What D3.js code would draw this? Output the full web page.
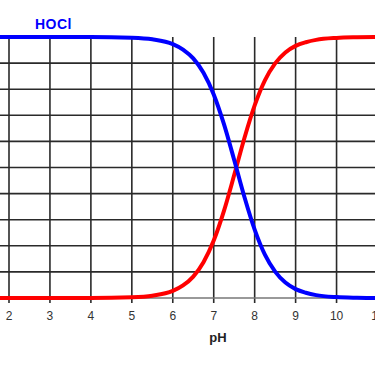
<!DOCTYPE html>
<html><head><meta charset="utf-8">
<script src="https://cdn.jsdelivr.net/npm/d3@7"></script>
<style>html,body{margin:0;padding:0;background:#fff;overflow:hidden}</style>
</head><body>
<svg id="c" width="375" height="367"></svg>
<script>
const pH =      [1.5, 2, 3, 4, 5, 5.5, 6, 6.25, 6.5, 6.75, 7, 7.25, 7.5, 7.75, 8, 8.25, 8.5, 8.75, 9, 9.25, 9.5, 10, 10.5, 11, 11.5];
const hocl =    [100, 100, 100, 100, 99.7, 99.1, 97.3, 95.2, 91.8, 86.3, 78.0, 66.6, 52.9, 38.7, 26.2, 16.6, 10.1, 5.9, 3.4, 2.0, 1.1, 0.35, 0.1, 0, 0];
const ocl =     [0, 0, 0, 0, 0.3, 0.9, 2.7, 4.8, 8.2, 13.7, 22.0, 33.4, 47.1, 61.3, 73.8, 83.4, 89.9, 94.1, 96.6, 98.0, 98.9, 99.65, 99.9, 100, 100];
const xTicks = [2, 3, 4, 5, 6, 7, 8, 9, 10, 11];
const yGrid = [10, 20, 30, 40, 50, 60, 70, 80, 90];

const svg = d3.select("#c");
const x = d3.scaleLinear().domain([2, 11]).range([9, 377.5]);
const y = d3.scaleLinear().domain([0, 100]).range([298, 37]);

// horizontal grid
svg.append("g").selectAll("line").data(yGrid).join("line")
  .attr("x1", 0).attr("x2", 375)
  .attr("y1", d => y(d)).attr("y2", d => y(d))
  .attr("stroke", "#2a2a2a").attr("stroke-width", 1.6);

// vertical grid (with tick extension)
svg.append("g").selectAll("line").data(xTicks).join("line")
  .attr("x1", d => x(d)).attr("x2", d => x(d))
  .attr("y1", y(100)).attr("y2", y(0) + 5)
  .attr("stroke", "#2a2a2a").attr("stroke-width", 1.6);

// bottom axis line
svg.append("line").attr("x1", 0).attr("x2", 375)
  .attr("y1", y(0)).attr("y2", y(0))
  .attr("stroke", "#777").attr("stroke-width", 1.6);

// tick labels
svg.append("g").selectAll("text").data(xTicks).join("text")
  .attr("x", d => x(d)).attr("y", 320)
  .attr("text-anchor", "middle")
  .attr("font-family", "Liberation Sans, Arial, sans-serif")
  .attr("font-size", 12).attr("fill", "#333")
  .text(d => d);

svg.append("text").attr("x", 218).attr("y", 342)
  .attr("text-anchor", "middle")
  .attr("font-family", "Liberation Sans, Arial, sans-serif")
  .attr("font-size", 13).attr("font-weight", "bold").attr("fill", "#222")
  .text("pH");

const line = d3.line().curve(d3.curveMonotoneX);
svg.append("path")
  .attr("d", line(pH.map((p, i) => [x(p), y(ocl[i])])))
  .attr("fill", "none").attr("stroke", "#ff0000").attr("stroke-width", 4);
svg.append("path")
  .attr("d", line(pH.map((p, i) => [x(p), y(hocl[i])])))
  .attr("fill", "none").attr("stroke", "#0000ff").attr("stroke-width", 4);

svg.append("text").attr("x", 35).attr("y", 29)
  .attr("font-family", "Liberation Sans, Arial, sans-serif")
  .attr("font-size", 14).attr("font-weight", "bold").attr("fill", "#0000ff")
  .attr("letter-spacing", 0.5)
  .text("HOCl");
</script>
</body></html>
